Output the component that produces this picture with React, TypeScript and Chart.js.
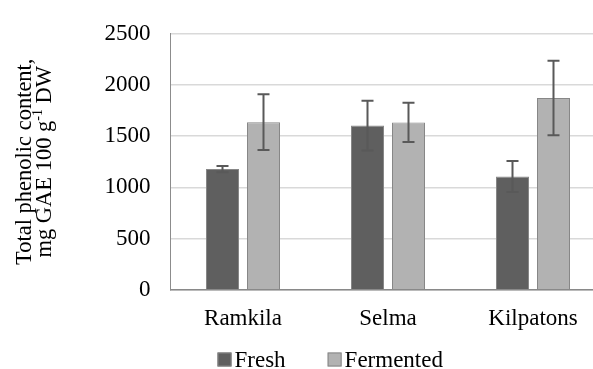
import { useEffect, useRef } from 'react';
import { Chart, registerables } from 'chart.js';

Chart.register(...registerables);

const categories = ['Ramkila', 'Selma', 'Kilpatons'];
const seriesNames = ['Fresh', 'Fermented'];
const freshValues = [1178, 1603, 1106];
const freshErrors = [31, 244, 152];
const fermentedValues = [1637, 1634, 1872];
const fermentedErrors = [273, 192, 364];
const yMin = 0;
const yMax = 2500;
const yStep = 500;
const titleLine1 = 'Total phenolic content,';
const titleLine2Parts = ['mg GAE 100 g', '-1', ' DW'];

const FONT_FAMILY = '"Liberation Serif", "Times New Roman", serif';
const fillColors = ['#5f5f5f', '#b2b2b2'];
const borderColor = '#878787';
const errorColor = '#595959';

const errorSets = [freshErrors, fermentedErrors];

const errorBarPlugin = {
  id: 'errorBars',
  afterDatasetsDraw(chart: any) {
    const { ctx } = chart;
    const yScale = chart.scales.y;
    chart.data.datasets.forEach((ds: any, i: number) => {
      const meta = chart.getDatasetMeta(i);
      const errs = errorSets[i];
      meta.data.forEach((bar: any, j: number) => {
        const v = ds.data[j];
        const e = errs[j];
        const x = bar.x;
        const yTop = yScale.getPixelForValue(v + e);
        const yBot = yScale.getPixelForValue(v - e);
        ctx.save();
        ctx.strokeStyle = errorColor;
        ctx.lineWidth = 2;
        ctx.beginPath();
        ctx.moveTo(x, yTop);
        ctx.lineTo(x, yBot);
        ctx.moveTo(x - 6, yTop);
        ctx.lineTo(x + 6, yTop);
        ctx.moveTo(x - 6, yBot);
        ctx.lineTo(x + 6, yBot);
        ctx.stroke();
        ctx.restore();
      });
    });
  },
};

const titlePlugin = {
  id: 'yTitle',
  afterDraw(chart: any) {
    const { ctx, chartArea } = chart;
    const cy = (chartArea.top + chartArea.bottom) / 2;
    const size = 22.5;
    ctx.save();
    ctx.translate(0, cy);
    ctx.rotate(-Math.PI / 2);
    ctx.fillStyle = '#000';
    ctx.textBaseline = 'alphabetic';
    ctx.font = `${size}px ${FONT_FAMILY}`;
    ctx.textAlign = 'center';
    ctx.fillText(titleLine1, 0, 31);
    const supSize = size * 0.62;
    ctx.textAlign = 'left';
    ctx.font = `${size}px ${FONT_FAMILY}`;
    const w0 = ctx.measureText(titleLine2Parts[0]).width;
    const w2 = ctx.measureText(titleLine2Parts[2]).width;
    ctx.font = `${supSize}px ${FONT_FAMILY}`;
    const w1 = ctx.measureText(titleLine2Parts[1]).width;
    const total = w0 + w1 + w2;
    let x = -total / 2;
    const base2 = 51;
    ctx.font = `${size}px ${FONT_FAMILY}`;
    ctx.fillText(titleLine2Parts[0], x, base2);
    x += w0;
    ctx.font = `${supSize}px ${FONT_FAMILY}`;
    ctx.fillText(titleLine2Parts[1], x, base2 - size * 0.38);
    x += w1;
    ctx.font = `${size}px ${FONT_FAMILY}`;
    ctx.fillText(titleLine2Parts[2], x, base2);
    ctx.restore();
  },
};

const legendPlugin = {
  id: 'customLegend',
  afterDraw(chart: any) {
    const { ctx } = chart;
    const size = 23;
    const box = 14;
    const baseY = 366.5;
    let x = 217.5;
    ctx.save();
    ctx.font = `${size}px ${FONT_FAMILY}`;
    ctx.textBaseline = 'alphabetic';
    ctx.textAlign = 'left';
    seriesNames.forEach((name, i) => {
      ctx.fillStyle = fillColors[i];
      ctx.fillRect(x, baseY - box, box, box);
      ctx.strokeStyle = borderColor;
      ctx.lineWidth = 1;
      ctx.strokeRect(x + 0.5, baseY - box + 0.5, box - 1, box - 1);
      ctx.fillStyle = '#000';
      ctx.fillText(name, x + box + 3, baseY);
      x += box + 3 + ctx.measureText(name).width + 42;
    });
    ctx.restore();
  },
};

export default function App() {
  const canvasRef = useRef<HTMLCanvasElement | null>(null);

  useEffect(() => {
    const canvas = canvasRef.current;
    if (!canvas) return;
    const font = { family: FONT_FAMILY, size: 23 };
    const chart = new Chart(canvas, {
      type: 'bar',
      data: {
        labels: categories,
        datasets: [
          {
            label: seriesNames[0],
            data: freshValues,
            backgroundColor: fillColors[0],
            borderColor: borderColor,
            borderWidth: 1,
            categoryPercentage: 0.5655,
            barPercentage: 0.805,
          },
          {
            label: seriesNames[1],
            data: fermentedValues,
            backgroundColor: fillColors[1],
            borderColor: borderColor,
            borderWidth: 1,
            categoryPercentage: 0.5655,
            barPercentage: 0.805,
          },
        ],
      },
      options: {
        responsive: false,
        animation: false,
        devicePixelRatio: 1,
        layout: { padding: { top: 23.3, right: 14.5, left: 0, bottom: 0 } },
        plugins: { legend: { display: false }, tooltip: { enabled: false } },
        scales: {
          x: {
            grid: { display: false, drawTicks: false },
            border: { color: '#898989', width: 1.5 },
            ticks: { color: '#000', font, padding: 15 },
            afterFit: (s: any) => {
              s.height = 79.3;
            },
          },
          y: {
            min: yMin,
            max: yMax,
            ticks: {
              stepSize: yStep,
              color: '#000',
              font,
              padding: 20,
              callback: (v: any) => String(v),
            },
            grid: { color: '#d9d9d9', lineWidth: 1.5, drawTicks: false },
            border: { color: '#8c8c8c', width: 1 },
            afterFit: (s: any) => {
              s.width = 170.5;
            },
          },
        },
      },
      plugins: [errorBarPlugin, titlePlugin, legendPlugin],
    } as any);
    return () => chart.destroy();
  }, []);

  return (
    <div
      style={{
        position: 'fixed',
        left: 0,
        top: 0,
        width: 593,
        height: 369,
        overflow: 'hidden',
        background: '#fff',
      }}
    >
      <canvas ref={canvasRef} width={620} height={369} style={{ display: 'block' }} />
    </div>
  );
}
